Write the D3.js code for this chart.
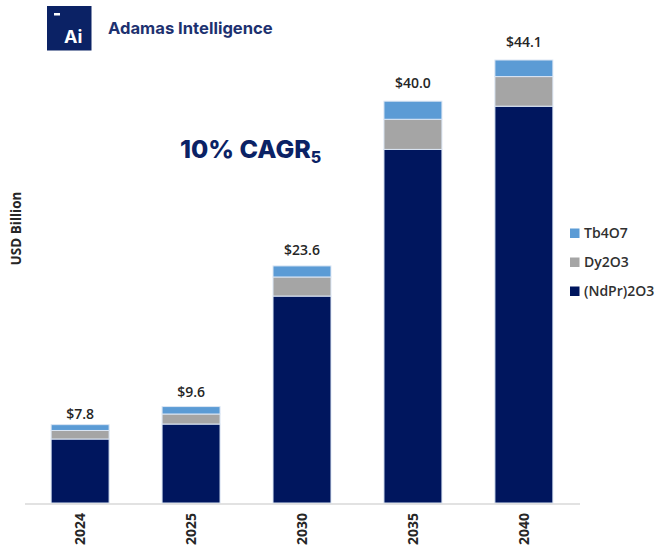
<!DOCTYPE html>
<html><head><meta charset="utf-8">
<script src="https://cdn.jsdelivr.net/npm/d3@7/dist/d3.min.js"></script>
<style>html,body{margin:0;padding:0;background:#fff}svg{display:block}</style>
</head><body><svg id="c" width="656" height="548"></svg>
<script>
const years = ["2024","2025","2030","2035","2040"];
const seriesNames = ["(NdPr)2O3","Dy2O3","Tb4O7"];
const ndpr = [6.37,7.86,20.6,35.2,39.5];
const dy = [0.85,1.0,1.9,3.0,2.95];
const tb = [0.58,0.74,1.1,1.8,1.65];
const totals = ["$7.8","$9.6","$23.6","$40.0","$44.1"];
const colors = ["#00165e","#a5a5a5","#5b9bd5"];
const navy = "#0b2265";
const labelFont = "'Open Sans', sans-serif";
const labelGaps = [6,9.5,11,13,13];

const svg = d3.select("#c");
const x = d3.scaleBand().domain(years).range([24.5,579.5]).paddingInner(0.4775).paddingOuter(0.24);
const y = d3.scaleLinear().domain([0,44.1]).range([503,60]);

const rows = years.map((yr,i)=>({year:yr,[seriesNames[0]]:ndpr[i],[seriesNames[1]]:dy[i],[seriesNames[2]]:tb[i]}));
const stacked = d3.stack().keys(seriesNames)(rows);

svg.append("g").selectAll("g").data(stacked).join("g").attr("fill",(d,i)=>colors[i])
  .selectAll("rect").data(d=>d).join("rect")
  .attr("x",d=>x(d.data.year)).attr("width",x.bandwidth())
  .attr("y",d=>y(d[1])).attr("height",d=>y(d[0])-y(d[1]))
  .attr("stroke","#dbe6f4").attr("stroke-width",1);

const axis = svg.append("g").attr("transform","translate(0,503.5)")
  .call(d3.axisBottom(x).tickSize(0).tickPadding(0));
axis.select(".domain").attr("stroke","#d9d9d9").attr("stroke-width",1.3);
axis.selectAll("text").attr("transform","translate(0,25.5) rotate(-90)")
  .attr("dy","0.35em").attr("y",0).attr("x",0).attr("text-anchor","middle")
  .attr("font-family",labelFont).attr("font-size",14).attr("font-weight",700).attr("fill","#262626");

svg.append("g").selectAll("text").data(years).join("text")
  .attr("x",d=>x(d)+x.bandwidth()/2)
  .attr("y",(d,i)=>y(ndpr[i]+dy[i]+tb[i])-labelGaps[i])
  .attr("text-anchor","middle").attr("font-family",labelFont)
  .attr("font-size",14).attr("font-weight",600).attr("fill","#262626")
  .text((d,i)=>totals[i]);

svg.append("text").attr("transform","translate(16,228.5) rotate(-90)").attr("text-anchor","middle")
  .attr("dy","0.35em").attr("font-family",labelFont).attr("font-size",13.5).attr("font-weight",700).attr("fill","#262626").text("USD Billion");

const legendY = d3.scalePoint().domain(["Tb4O7","Dy2O3","(NdPr)2O3"]).range([233,291]);
const lg = svg.append("g").selectAll("g").data(legendY.domain()).join("g")
  .attr("transform",d=>`translate(570,${legendY(d)})`);
lg.append("rect").attr("y",-4.5).attr("width",9.5).attr("height",9.5)
  .attr("fill",d=>colors[seriesNames.indexOf(d)]);
lg.append("text").attr("x",14).attr("dy","0.36em").attr("font-family",labelFont)
  .attr("font-size",14).attr("font-weight",600).attr("fill","#303030").text(d=>d);

svg.append("rect").attr("x",47).attr("y",6).attr("width",44.5).attr("height",44.5).attr("fill",navy);
svg.append("rect").attr("x",54).attr("y",13).attr("width",6).attr("height",2.5).attr("fill","#fff");
svg.append("text").attr("x",64).attr("y",43).attr("font-family","Inter, sans-serif").attr("font-size",18).attr("font-weight",700).attr("fill","#fff").text("Ai");
svg.append("text").attr("x",108).attr("y",34).attr("font-family","Inter, sans-serif").attr("font-size",16.6).attr("font-weight",700).attr("fill","#1d3170").text("Adamas Intelligence");

const cagr = svg.append("text").attr("x",180).attr("y",158).attr("font-family","Inter, sans-serif").attr("font-weight",800).attr("fill",navy).attr("font-size",25);
cagr.append("tspan").text("10% CAGR");
cagr.append("tspan").attr("dy",5).attr("font-size",16).text("5");
</script></body></html>
